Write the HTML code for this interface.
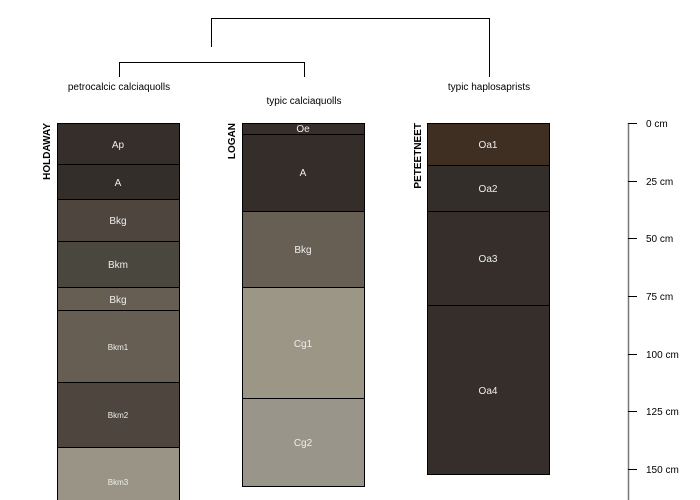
<!DOCTYPE html>
<html><head><style>body{margin:0;background:#fff}svg{display:block}text{font-family:"Liberation Sans",sans-serif}</style></head><body>
<svg width="700" height="500" viewBox="0 0 700 500" xmlns="http://www.w3.org/2000/svg">
<g stroke="#000" stroke-width="1" fill="none">
<path d="M211.5 47V18.5H489.5V77"/>
<path d="M119.5 77V62.5H304.5V77"/>
</g>
<g font-size="10" text-anchor="middle" fill="#000">
<text x="119" y="90">petrocalcic calciaquolls</text>
<text x="304" y="104">typic calciaquolls</text>
<text x="489" y="90">typic haplosaprists</text>
</g>
<g stroke="#000" stroke-width="1">
<rect x="57.5" y="123.5" width="122" height="41" fill="#352e2a"/>
<rect x="57.5" y="164.5" width="122" height="35" fill="#342e2a"/>
<rect x="57.5" y="199.5" width="122" height="42" fill="#4e463e"/>
<rect x="57.5" y="241.5" width="122" height="46" fill="#4a473e"/>
<rect x="57.5" y="287.5" width="122" height="23" fill="#675e53"/>
<rect x="57.5" y="310.5" width="122" height="72" fill="#675e53"/>
<rect x="57.5" y="382.5" width="122" height="65" fill="#4e463e"/>
<rect x="57.5" y="447.5" width="122" height="60" fill="#999486"/>
<rect x="242.5" y="123.5" width="122" height="11" fill="#352e2a"/>
<rect x="242.5" y="134.5" width="122" height="77" fill="#342d29"/>
<rect x="242.5" y="211.5" width="122" height="76" fill="#675f54"/>
<rect x="242.5" y="287.5" width="122" height="111" fill="#9b9686"/>
<rect x="242.5" y="398.5" width="122" height="88" fill="#99958a"/>
<rect x="427.5" y="123.5" width="122" height="42" fill="#3f2e22"/>
<rect x="427.5" y="165.5" width="122" height="46" fill="#342e2a"/>
<rect x="427.5" y="211.5" width="122" height="94" fill="#352e2a"/>
<rect x="427.5" y="305.5" width="122" height="169" fill="#352e2a"/>
</g>
<g font-size="10" text-anchor="middle" fill="#eee">
<text x="118" y="148">Ap</text>
<text x="118" y="186">A</text>
<text x="118" y="224">Bkg</text>
<text x="118" y="268">Bkm</text>
<text x="118" y="303">Bkg</text>
<text x="118" y="350" font-size="8">Bkm1</text>
<text x="118" y="418" font-size="8">Bkm2</text>
<text x="118" y="485" font-size="8">Bkm3</text>
<text x="303" y="132">Oe</text>
<text x="303" y="176">A</text>
<text x="303" y="253">Bkg</text>
<text x="303" y="347">Cg1</text>
<text x="303" y="446">Cg2</text>
<text x="488" y="148">Oa1</text>
<text x="488" y="192">Oa2</text>
<text x="488" y="262">Oa3</text>
<text x="488" y="394">Oa4</text>
</g>
<g font-size="10" font-weight="bold" text-anchor="end" fill="#000">
<text transform="translate(50,123) rotate(-90)">HOLDAWAY</text>
<text transform="translate(235,123) rotate(-90)">LOGAN</text>
<text transform="translate(421,123) rotate(-90)">PETEETNEET</text>
</g>
<g stroke="#777" stroke-width="1.5"><path d="M628.5 123V500"/></g>
<g stroke="#000" stroke-width="1">
<path d="M628 123.5H637M628 181.5H637M628 238.5H637M628 296.5H637M628 354.5H637M628 411.5H637M628 469.5H637"/>
</g>
<g font-size="10" fill="#000">
<text x="646" y="127">0 cm</text>
<text x="646" y="185">25 cm</text>
<text x="646" y="242">50 cm</text>
<text x="646" y="300">75 cm</text>
<text x="646" y="358">100 cm</text>
<text x="646" y="415">125 cm</text>
<text x="646" y="473">150 cm</text>
</g>
</svg>
</body></html>
